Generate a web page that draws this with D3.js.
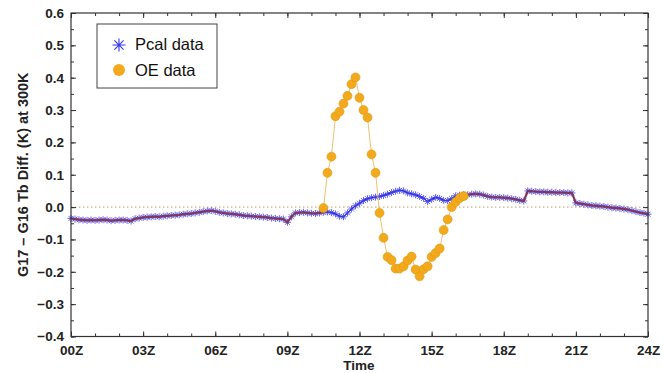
<!DOCTYPE html>
<html>
<head>
<meta charset="utf-8">
<script src="https://cdn.jsdelivr.net/npm/d3@7"></script>
<style>
  body { margin: 0; background: #fff; }
  svg { display: block; }
  text { font-family: "Liberation Sans", Arial, Helvetica, sans-serif; }
</style>
</head>
<body>
<svg id="chart" width="666" height="373"></svg>
<script>
// ---- data ----
const hourTicks = [0, 3, 6, 9, 12, 15, 18, 21, 24];
const hourLabels = ['00Z', '03Z', '06Z', '09Z', '12Z', '15Z', '18Z', '21Z', '24Z'];
const yTicks = [-0.4, -0.3, -0.2, -0.1, 0.0, 0.1, 0.2, 0.3, 0.4, 0.5, 0.6];

// Pcal difference, one value every 10 minutes from 00Z to 24Z (one row per hour)
const pcalStepHours = 1 / 6;
const pcalValues = [
  -0.035, -0.037, -0.039, -0.040, -0.041, -0.040,
  -0.041, -0.040, -0.039, -0.040, -0.042, -0.041,
  -0.040, -0.040, -0.041, -0.043, -0.036, -0.034,
  -0.032, -0.031, -0.030, -0.029, -0.030, -0.028,
  -0.027, -0.026, -0.025, -0.024, -0.022, -0.021,
  -0.020, -0.018, -0.016, -0.014, -0.012, -0.011,
  -0.013, -0.016, -0.018, -0.020, -0.021, -0.022,
  -0.024, -0.026, -0.027, -0.028, -0.029, -0.030,
  -0.031, -0.032, -0.034, -0.035, -0.036, -0.037,
  -0.047, -0.030, -0.018, -0.017, -0.016, -0.018,
  -0.019, -0.020, -0.018, -0.016, -0.015, -0.017,
  -0.021, -0.028, -0.030, -0.018, -0.006, 0.004,
  0.012, 0.020, 0.026, 0.029, 0.031, 0.033,
  0.036, 0.040, 0.045, 0.049, 0.052, 0.050,
  0.044, 0.041, 0.038, 0.033, 0.027, 0.017,
  0.024, 0.030, 0.027, 0.021, 0.020, 0.026,
  0.035, 0.037, 0.038, 0.038, 0.040, 0.041,
  0.040, 0.037, 0.033, 0.031, 0.030, 0.030,
  0.029, 0.028, 0.026, 0.024, 0.021, 0.019,
  0.050, 0.049, 0.048, 0.047, 0.047, 0.046,
  0.046, 0.045, 0.045, 0.045, 0.044, 0.044,
  0.013, 0.011, 0.009, 0.007, 0.005, 0.004,
  0.003, 0.002, 0.000, -0.002, -0.003, -0.004,
  -0.006, -0.008, -0.011, -0.014, -0.017, -0.019,
  -0.022
];

// OE difference during the event, every 10 minutes from 10:30Z
const oeStartHour = 10.5;
const oeStepHours = 1 / 6;
const oeValues = [
  -0.003, 0.106, 0.156, 0.281, 0.295, 0.320, 0.344, 0.380, 0.401,
  0.338, 0.300, 0.277, 0.163, 0.106, -0.018, -0.095, -0.154, -0.164,
  -0.190, -0.190, -0.183, -0.165, -0.153, -0.193, -0.214, -0.192, -0.183,
  -0.154, -0.142, -0.128, -0.071, -0.038, 0.000, 0.016, 0.028, 0.034
];

// ---- layout ----
const svg = d3.select('#chart');
const margin = {top: 13, right: 18, bottom: 36.5, left: 71};
const width = 666, height = 373;

const x = d3.scaleLinear().domain([0, 24]).range([margin.left, width - margin.right]);
const y = d3.scaleLinear().domain([-0.4, 0.6]).range([height - margin.bottom, margin.top]);

const pcal = pcalValues.map((v, i) => ({h: i * pcalStepHours, v}));
const oe = oeValues.map((v, i) => ({h: oeStartHour + i * oeStepHours, v}));
const oeEndHour = oe[oe.length - 1].h;

const axisColor = '#333';

// zero reference line
svg.append('line')
  .attr('x1', x(0)).attr('x2', x(24))
  .attr('y1', y(0)).attr('y2', y(0))
  .attr('stroke', '#c99a66')
  .attr('stroke-width', 1)
  .attr('stroke-dasharray', '1.5,2.5');

// asterisk marker, like IDL psym=2
const asterisk = {
  draw(ctx, size) {
    const r = Math.sqrt(size) / 2;
    const d = r * Math.SQRT1_2;
    ctx.moveTo(-r, 0); ctx.lineTo(r, 0);
    ctx.moveTo(0, -r); ctx.lineTo(0, r);
    ctx.moveTo(-d, -d); ctx.lineTo(d, d);
    ctx.moveTo(-d, d); ctx.lineTo(d, -d);
  }
};

const line = d3.line().x(d => x(d.h)).y(d => y(d.v));

// Pcal series
svg.append('path')
  .datum(pcal)
  .attr('d', line)
  .attr('fill', 'none')
  .attr('stroke', '#1c1ca0')
  .attr('stroke-width', 1.2);

svg.append('g')
  .selectAll('path')
  .data(pcal)
  .join('path')
  .attr('transform', d => `translate(${x(d.h)},${y(d.v)})`)
  .attr('d', d3.symbol(asterisk, 49))
  .attr('fill', 'none')
  .attr('stroke', '#3a3af0')
  .attr('stroke-width', 0.8);

// OE follows Pcal outside the event
svg.append('path')
  .datum(pcal)
  .attr('d', line.defined(d => d.h <= oeStartHour || d.h >= oeEndHour))
  .attr('fill', 'none')
  .attr('stroke', '#8e3444')
  .attr('stroke-opacity', 0.8)
  .attr('stroke-width', 2.4);
line.defined(() => true);

// OE event
svg.append('path')
  .datum(oe)
  .attr('d', line)
  .attr('fill', 'none')
  .attr('stroke', '#f0c070')
  .attr('stroke-width', 1);

svg.append('g')
  .selectAll('circle')
  .data(oe)
  .join('circle')
  .attr('cx', d => x(d.h))
  .attr('cy', d => y(d.v))
  .attr('r', 4.5)
  .attr('fill', '#f2aa1c')
  .attr('stroke', '#e0980e')
  .attr('stroke-width', 0.6);

// ---- axes (ticks inward on all four sides) ----
const x0 = x(0), x1 = x(24), yb = y(-0.4), yt = y(0.6);

svg.append('g')
  .attr('transform', `translate(0,${yb})`)
  .call(d3.axisBottom(x).tickValues(hourTicks).tickFormat((d, i) => hourLabels[i])
    .tickSizeInner(-5).tickSizeOuter(0).tickPadding(9));
svg.append('g')
  .attr('transform', `translate(0,${yb})`)
  .call(d3.axisBottom(x).tickValues(d3.range(0, 25)).tickFormat('').tickSizeInner(-3).tickSizeOuter(0));
svg.append('g')
  .attr('transform', `translate(0,${yt})`)
  .call(d3.axisTop(x).tickValues(hourTicks).tickFormat('').tickSizeInner(-5).tickSizeOuter(0));
svg.append('g')
  .attr('transform', `translate(0,${yt})`)
  .call(d3.axisTop(x).tickValues(d3.range(0, 25)).tickFormat('').tickSizeInner(-3).tickSizeOuter(0));

svg.append('g')
  .attr('transform', `translate(${x0},0)`)
  .call(d3.axisLeft(y).tickValues(yTicks).tickFormat(d3.format('.1f'))
    .tickSizeInner(-5).tickSizeOuter(0).tickPadding(7));
svg.append('g')
  .attr('transform', `translate(${x0},0)`)
  .call(d3.axisLeft(y).tickValues(d3.range(-0.4, 0.61, 0.05)).tickFormat('').tickSizeInner(-3).tickSizeOuter(0));
svg.append('g')
  .attr('transform', `translate(${x1},0)`)
  .call(d3.axisRight(y).tickValues(yTicks).tickFormat('').tickSizeInner(-5).tickSizeOuter(0));
svg.append('g')
  .attr('transform', `translate(${x1},0)`)
  .call(d3.axisRight(y).tickValues(d3.range(-0.4, 0.61, 0.05)).tickFormat('').tickSizeInner(-3).tickSizeOuter(0));

svg.selectAll('.domain').remove();
svg.selectAll('.tick line').attr('stroke', axisColor);
svg.selectAll('.tick text')
  .attr('fill', '#222')
  .style('font-size', '13.5px')
  .style('font-weight', 'bold')
  .style('font-family', '"Liberation Sans", Arial, sans-serif');

// frame
svg.append('rect')
  .attr('x', x0).attr('y', yt)
  .attr('width', x1 - x0).attr('height', yb - yt)
  .attr('fill', 'none')
  .attr('stroke', axisColor)
  .attr('stroke-width', 1.2);

// axis titles
svg.append('text')
  .attr('x', (x0 + x1) / 2 - 0.5)
  .attr('y', 370)
  .attr('text-anchor', 'middle')
  .attr('fill', '#222')
  .style('font-size', '13.5px')
  .style('font-weight', 'bold')
  .text('Time');

svg.append('text')
  .attr('transform', `translate(28,${(yt + yb) / 2}) rotate(-90)`)
  .attr('text-anchor', 'middle')
  .attr('fill', '#222')
  .style('font-size', '14.5px')
  .style('font-weight', 'bold')
  .text('G17 \u2013 G16 Tb Diff. (K) at 300K');

// ---- legend ----
const legend = svg.append('g');
legend.append('rect')
  .attr('x', 97).attr('y', 24).attr('width', 120).attr('height', 64)
  .attr('fill', '#fff')
  .attr('stroke', '#444')
  .attr('stroke-width', 1);
legend.append('path')
  .attr('transform', 'translate(119,45)')
  .attr('d', d3.symbol(asterisk, 170))
  .attr('fill', 'none')
  .attr('stroke', '#3a3af0')
  .attr('stroke-width', 1.1);
legend.append('circle')
  .attr('cx', 119).attr('cy', 70).attr('r', 6)
  .attr('fill', '#f2aa1c');
legend.append('text')
  .attr('x', 135).attr('y', 50)
  .attr('fill', '#111')
  .style('font-size', '16.5px')
  .text('Pcal data');
legend.append('text')
  .attr('x', 135).attr('y', 76)
  .attr('fill', '#111')
  .style('font-size', '16.5px')
  .text('OE data');
</script>
</body>
</html>
